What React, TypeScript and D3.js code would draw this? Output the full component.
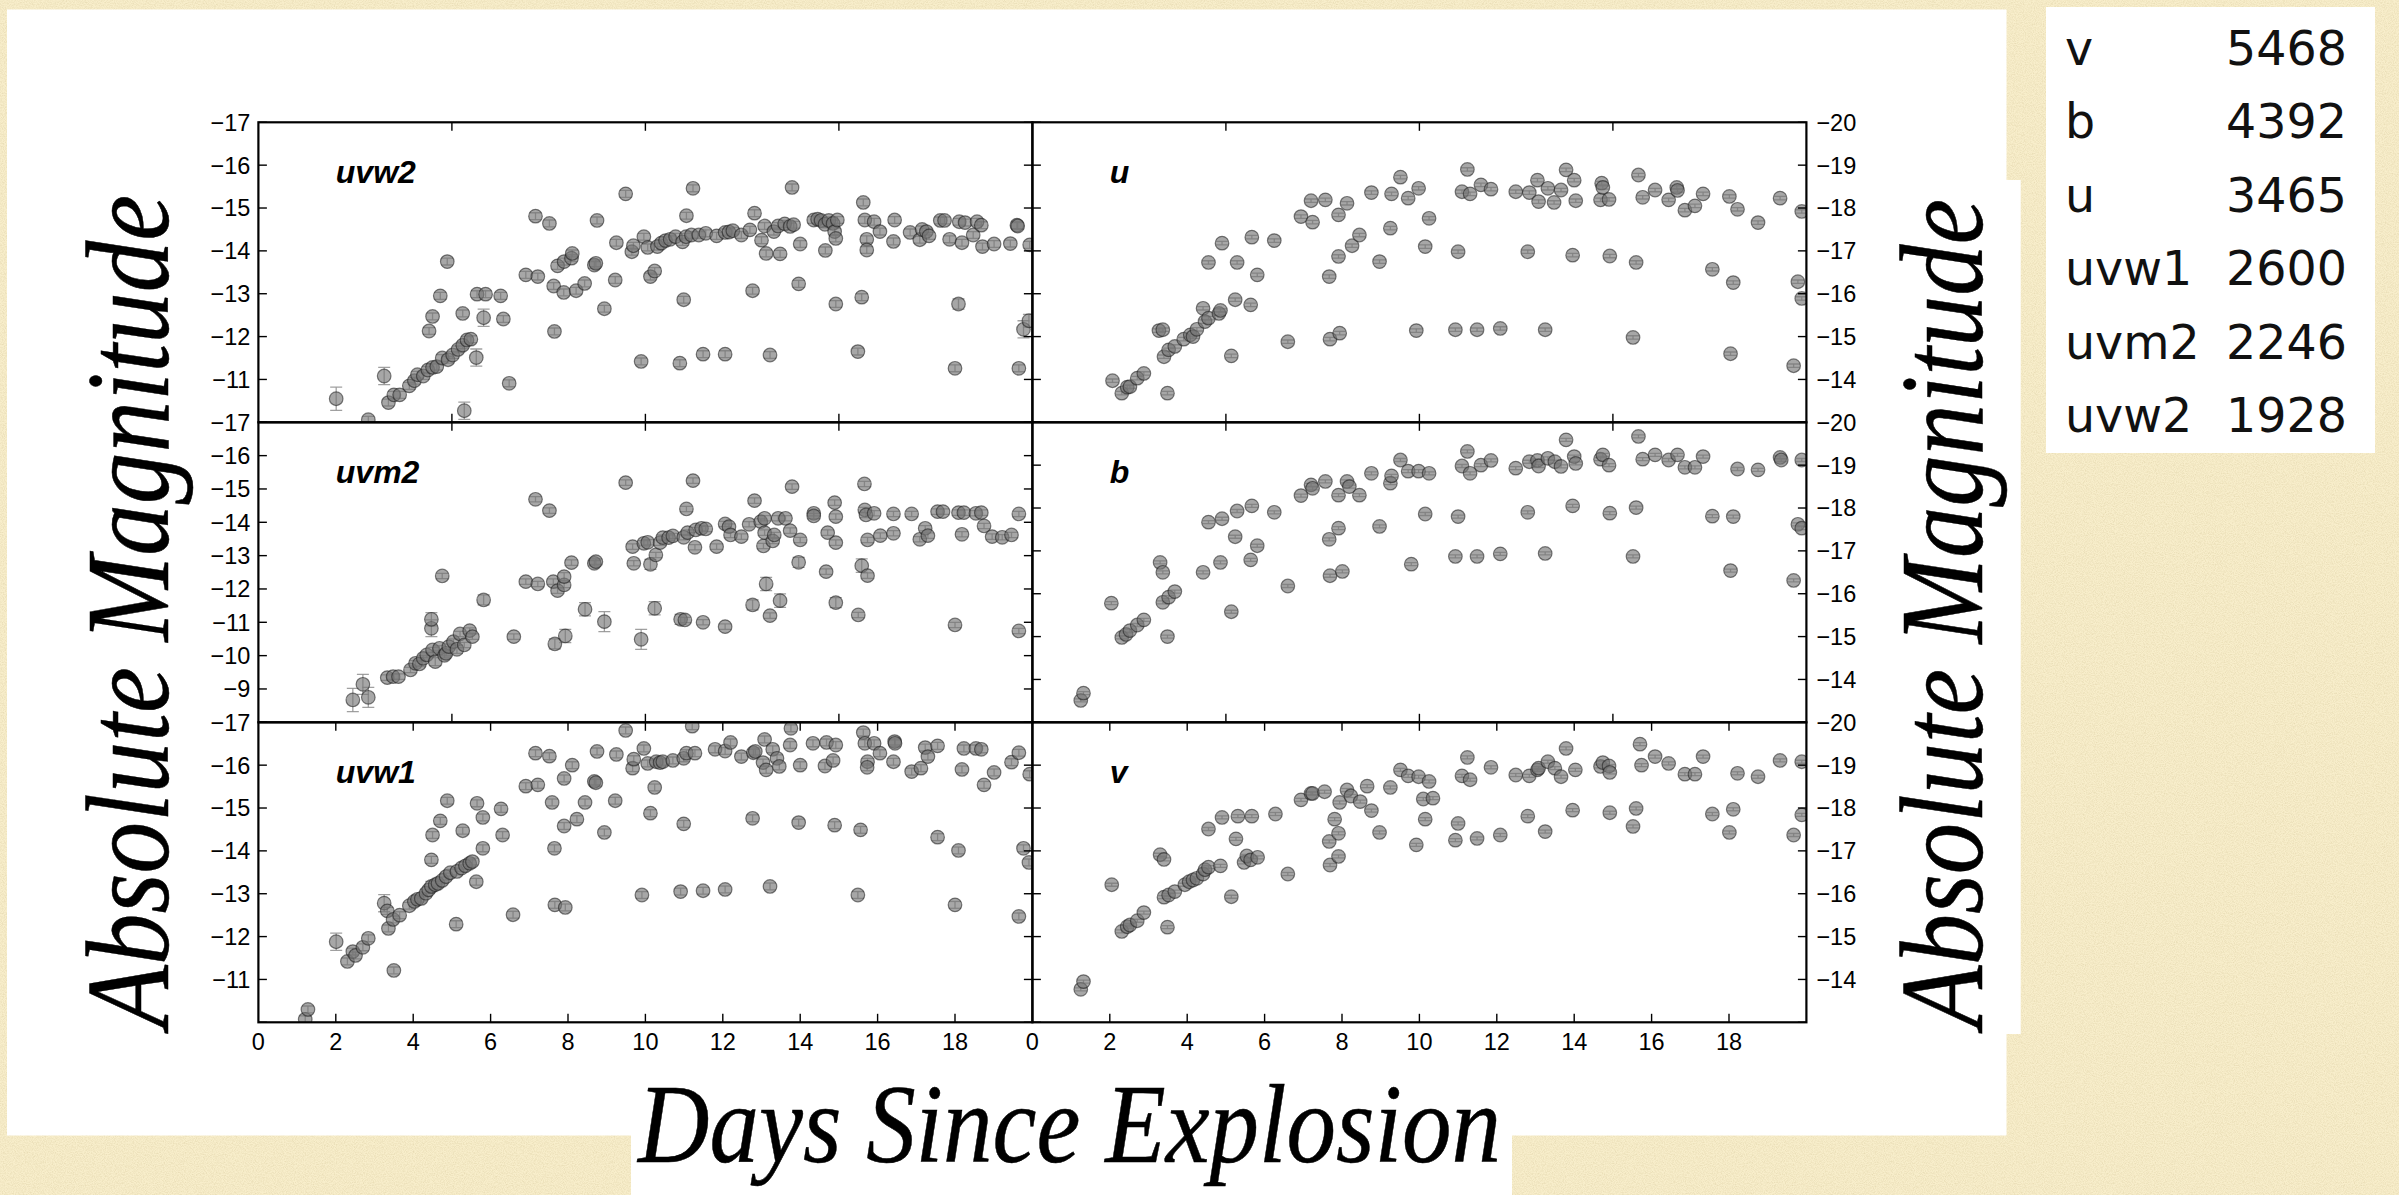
import React from "react";
import * as d3 from "d3";

// [day since explosion, absolute magnitude, optional 1-sigma error]
type Obs = [number, number, number?];

const uvw2Obs: Obs[] = [
  [2.01, -10.55, 0.27], [2.84, -10.06], [3.25, -11.08, 0.2], [3.36, -10.46], [3.5, -10.64], [3.65, -10.64],
  [3.9, -10.85], [4.03, -10.97], [4.11, -11.11], [4.26, -11.08], [4.38, -11.22], [4.5, -11.28], [4.61, -11.3],
  [4.75, -11.5], [4.9, -11.46], [5.02, -11.57], [5.16, -11.7], [5.28, -11.8], [5.39, -11.92], [5.49, -11.94],
  [5.63, -11.51, 0.2], [5.32, -10.27, 0.2], [4.41, -12.13], [4.5, -12.47], [4.7, -12.95], [4.88, -13.75],
  [5.28, -12.54], [5.65, -12.99], [5.82, -12.44, 0.2], [5.87, -12.99], [6.26, -12.95], [6.33, -12.41],
  [6.48, -10.91], [6.91, -13.44], [7.22, -13.4], [7.16, -14.81], [7.52, -14.64], [7.63, -13.18], [7.65, -12.12],
  [7.73, -13.65], [7.89, -13.03], [7.9, -13.75], [8.09, -13.83], [8.11, -13.94], [8.21, -13.07], [8.43, -13.24],
  [8.68, -13.67], [8.72, -13.71], [8.75, -14.71], [8.94, -12.65], [9.22, -13.32], [9.25, -14.19], [9.49, -15.33],
  [9.65, -13.98], [9.69, -14.12], [9.89, -11.42], [9.96, -14.33], [10.06, -14.08], [10.13, -13.4], [10.24, -13.53],
  [10.31, -14.1], [10.41, -14.18], [10.52, -14.24], [10.64, -14.27], [10.78, -14.33], [10.89, -11.38],
  [10.96, -14.21], [10.99, -12.86], [11.05, -14.33], [11.06, -14.82], [11.19, -14.37], [11.23, -15.46],
  [11.38, -14.37], [11.49, -11.59], [11.56, -14.41], [11.84, -14.35], [12.06, -11.59], [12.06, -14.43],
  [12.16, -14.44], [12.26, -14.47], [12.48, -14.37], [12.7, -14.49], [12.77, -13.07], [12.82, -14.88],
  [13.0, -14.25], [13.08, -14.58], [13.12, -13.94], [13.22, -11.57], [13.32, -14.45], [13.43, -14.58],
  [13.48, -13.93], [13.6, -14.63], [13.74, -14.57], [13.79, -15.48], [13.83, -14.61], [13.96, -13.23],
  [14.0, -14.16], [14.35, -14.72], [14.45, -14.74], [14.54, -14.71], [14.64, -14.62], [14.65, -14.01],
  [14.74, -14.71], [14.85, -14.64], [14.89, -14.45], [14.92, -14.29], [14.92, -12.76], [14.96, -14.72],
  [15.49, -11.65], [15.59, -12.92], [15.63, -15.13], [15.67, -14.72], [15.72, -14.27], [15.72, -14.02],
  [15.91, -14.68], [16.06, -14.45], [16.41, -14.22], [16.44, -14.72], [16.84, -14.43], [17.09, -14.26],
  [17.15, -14.5], [17.26, -14.45], [17.33, -14.35], [17.62, -14.71], [17.73, -14.71], [17.86, -14.27],
  [18.0, -11.26], [18.09, -12.76, 0.12], [18.11, -14.68], [18.18, -14.19], [18.26, -14.66], [18.47, -14.37],
  [18.57, -14.68], [18.68, -14.6], [18.71, -14.1], [19.01, -14.16], [19.43, -14.17], [19.6, -14.6],
  [19.62, -14.58], [19.65, -11.26], [19.77, -12.17, 0.2], [19.91, -12.37, 0.15], [19.93, -14.14],
];

const uvm2Obs: Obs[] = [
  [2.44, -8.67, 0.35], [2.7, -9.14, 0.3], [2.84, -8.75, 0.3], [3.33, -9.34], [3.48, -9.37], [3.62, -9.37],
  [3.93, -9.57], [4.06, -9.77], [4.16, -9.75], [4.26, -9.92], [4.35, -10.02], [4.47, -10.82, 0.25],
  [4.47, -11.09, 0.2], [4.5, -10.17], [4.57, -9.82, 0.12], [4.68, -10.22], [4.75, -12.39], [4.81, -10.01],
  [4.85, -10.07], [4.92, -10.27], [5.04, -10.42], [5.13, -10.19, 0.12], [5.21, -10.65], [5.32, -10.32],
  [5.46, -10.75], [5.53, -10.57], [5.82, -11.67, 0.15], [6.6, -10.57], [6.91, -12.22], [7.16, -14.69],
  [7.22, -12.15], [7.52, -14.35], [7.62, -12.22], [7.66, -10.35, 0.15], [7.73, -11.95], [7.9, -12.12],
  [7.9, -12.37, 0.12], [7.93, -10.59, 0.2], [8.09, -12.79], [8.44, -11.39, 0.2], [8.68, -12.77], [8.72, -12.82],
  [8.94, -11.02, 0.3], [9.49, -15.19], [9.67, -13.27], [9.7, -12.77], [9.89, -10.49, 0.3], [9.96, -13.37],
  [10.06, -13.4], [10.13, -12.74, 0.15], [10.24, -11.42, 0.2], [10.27, -13.02], [10.38, -13.39], [10.45, -13.54],
  [10.6, -13.54], [10.71, -13.59], [10.91, -11.09, 0.15], [10.99, -13.55], [11.02, -11.07], [11.06, -14.4],
  [11.09, -13.69], [11.23, -15.25], [11.28, -13.25], [11.3, -13.77], [11.45, -13.82], [11.49, -11.0],
  [11.56, -13.8], [11.84, -13.27], [12.06, -10.87], [12.06, -13.95], [12.16, -13.87], [12.2, -13.62],
  [12.48, -13.57], [12.68, -13.94], [12.77, -11.52, 0.15], [12.82, -14.65], [12.98, -14.02], [13.05, -13.29],
  [13.08, -13.69], [13.08, -14.12], [13.12, -12.15, 0.2], [13.22, -11.2], [13.29, -13.44], [13.33, -13.62],
  [13.43, -14.12], [13.48, -11.65, 0.2], [13.62, -14.12], [13.74, -13.75], [13.79, -15.07], [13.96, -12.8, 0.15],
  [14.0, -13.47], [14.35, -14.27], [14.35, -14.19], [14.67, -12.52], [14.71, -13.69], [14.89, -14.59],
  [14.92, -14.17], [14.92, -13.39], [14.92, -11.59, 0.15], [15.5, -11.22], [15.59, -12.7, 0.2], [15.66, -15.15],
  [15.67, -14.37], [15.7, -14.22], [15.74, -13.47], [15.74, -12.4], [15.91, -14.27], [16.07, -13.6],
  [16.41, -14.25], [16.41, -13.67], [16.88, -14.25], [17.09, -13.49], [17.23, -13.82], [17.3, -13.6],
  [17.55, -14.32], [17.69, -14.32], [18.0, -10.92], [18.09, -14.29], [18.18, -13.64], [18.23, -14.29],
  [18.54, -14.27], [18.68, -14.29], [18.75, -13.89], [18.96, -13.57], [19.22, -13.55], [19.46, -13.62],
  [19.65, -14.25], [19.65, -10.74],
];

const uvw1Obs: Obs[] = [
  [1.21, -10.07], [1.28, -10.3], [2.01, -11.88, 0.2], [2.3, -11.42], [2.44, -11.65], [2.51, -11.56], [2.7, -11.75],
  [2.84, -11.96], [3.25, -12.78, 0.2], [3.33, -12.6], [3.36, -12.19], [3.48, -12.4], [3.5, -11.21], [3.65, -12.5],
  [3.9, -12.72], [4.03, -12.82], [4.11, -12.87], [4.21, -12.89], [4.33, -13.01], [4.4, -13.09], [4.47, -13.79],
  [4.47, -13.17, 0.12], [4.5, -14.37], [4.57, -13.21], [4.64, -13.24], [4.7, -14.7], [4.75, -13.31], [4.85, -13.4],
  [4.88, -15.17], [4.96, -13.49], [5.11, -12.29], [5.13, -13.52], [5.25, -13.6], [5.28, -14.47], [5.35, -13.65],
  [5.46, -13.71], [5.53, -13.75], [5.63, -13.28], [5.65, -15.11], [5.8, -14.78], [5.8, -14.06], [6.27, -14.98],
  [6.31, -14.37], [6.58, -12.51], [6.91, -15.51], [7.22, -15.54], [7.16, -16.28], [7.52, -16.21], [7.59, -15.13],
  [7.65, -14.06], [7.66, -12.74], [7.9, -14.58], [7.9, -15.69], [7.93, -12.68], [8.11, -16.0], [8.23, -14.74],
  [8.44, -15.13], [8.68, -15.62], [8.72, -15.59], [8.75, -16.32], [8.94, -14.43], [9.22, -15.17], [9.25, -16.25],
  [9.49, -16.81], [9.67, -15.93], [9.7, -16.14], [9.91, -12.97], [9.96, -16.39], [10.06, -16.04], [10.13, -14.88],
  [10.24, -15.48], [10.28, -16.08], [10.38, -16.06], [10.45, -16.08], [10.71, -16.11], [10.91, -13.05],
  [10.99, -14.63], [10.99, -16.16], [11.06, -16.28], [11.21, -16.91], [11.28, -16.28], [11.49, -13.07],
  [11.8, -16.37], [12.06, -13.1], [12.06, -16.33], [12.2, -16.53], [12.48, -16.2], [12.77, -14.76],
  [12.79, -16.29], [12.84, -16.32], [13.04, -16.06], [13.08, -16.6], [13.12, -15.89], [13.22, -13.17],
  [13.29, -16.37], [13.4, -16.16], [13.46, -15.97], [13.74, -16.47], [13.76, -16.86], [13.96, -14.66],
  [14.0, -16.0], [14.33, -16.51], [14.64, -15.98], [14.68, -16.53], [14.85, -16.11], [14.89, -14.6],
  [14.92, -16.47], [15.49, -12.97], [15.56, -14.49], [15.63, -16.76], [15.67, -16.51], [15.74, -16.08],
  [15.73, -15.95], [15.91, -16.51], [16.06, -16.28], [16.41, -16.08], [16.44, -16.55], [16.45, -16.51],
  [16.88, -15.85], [17.12, -15.93], [17.23, -16.41], [17.3, -16.2], [17.55, -16.45], [17.55, -14.32],
  [18.0, -12.74], [18.09, -14.01], [18.18, -15.9], [18.23, -16.39], [18.54, -16.39], [18.68, -16.37],
  [18.75, -15.54], [19.01, -15.83], [19.46, -16.07], [19.65, -16.29], [19.65, -12.47], [19.77, -14.06],
  [19.91, -13.73], [19.93, -15.79],
];

const uObs: Obs[] = [
  [2.07, -13.97], [2.31, -13.68], [2.45, -13.82], [2.52, -13.83], [2.71, -14.03], [2.88, -14.14], [3.27, -15.14],
  [3.37, -15.16], [3.4, -14.53], [3.49, -13.68], [3.52, -14.69], [3.68, -14.77], [3.91, -14.94], [4.08, -15.04],
  [4.15, -15.0], [4.25, -15.17], [4.41, -15.66], [4.46, -15.35], [4.55, -15.43], [4.55, -16.73], [4.82, -15.54],
  [4.86, -15.61], [4.9, -17.18], [5.14, -14.55], [5.24, -15.86], [5.29, -16.73], [5.64, -15.74], [5.67, -17.32],
  [5.81, -16.44], [6.25, -17.24], [6.6, -14.88], [6.94, -17.8], [7.2, -18.17], [7.24, -17.67], [7.57, -18.19],
  [7.67, -16.4], [7.69, -14.94], [7.91, -16.87], [7.91, -17.84], [7.94, -15.08], [8.13, -18.11], [8.26, -17.12],
  [8.45, -17.37], [8.76, -18.36], [8.97, -16.75], [9.25, -17.53], [9.28, -18.33], [9.51, -18.72], [9.71, -18.23],
  [9.92, -15.14], [9.98, -18.46], [10.15, -17.1], [10.25, -17.76], [11.0, -16.98], [10.93, -15.16], [11.1, -18.38],
  [11.24, -18.9], [11.31, -18.33], [11.49, -15.16], [11.59, -18.54], [11.85, -18.44], [12.09, -15.19],
  [12.49, -18.38], [12.8, -16.98], [12.84, -18.36], [13.05, -18.65], [13.08, -18.15], [13.25, -15.16],
  [13.32, -18.46], [13.48, -18.13], [13.66, -18.42], [13.79, -18.89], [13.96, -16.9], [14.0, -18.65],
  [14.04, -18.17], [14.68, -18.19], [14.71, -18.58], [14.74, -18.48], [14.9, -18.2], [14.92, -16.88],
  [15.52, -14.98], [15.6, -16.73], [15.66, -18.77], [15.77, -18.25], [16.09, -18.42], [16.44, -18.19],
  [16.65, -18.48], [16.67, -18.41], [16.86, -17.95], [17.12, -18.05], [17.33, -18.33], [17.57, -16.57],
  [18.01, -18.27], [18.04, -14.6], [18.11, -16.26], [18.22, -17.97], [18.75, -17.66], [19.32, -18.23],
  [19.67, -14.32], [19.78, -16.28], [19.88, -17.92], [19.88, -15.89],
];

const bObs: Obs[] = [
  [1.25, -13.51], [1.32, -13.68], [2.04, -15.78], [2.31, -14.98], [2.42, -15.05], [2.52, -15.14], [2.71, -15.27],
  [2.88, -15.39], [3.3, -16.73], [3.37, -16.5], [3.37, -15.8], [3.49, -15.0], [3.52, -15.92], [3.68, -16.05],
  [4.41, -16.5], [4.55, -17.67], [4.86, -16.73], [4.9, -17.75], [5.14, -15.58], [5.24, -17.33], [5.29, -17.93],
  [5.64, -16.79], [5.67, -18.05], [5.81, -17.12], [6.25, -17.9], [6.6, -16.18], [6.94, -18.29], [7.2, -18.54],
  [7.24, -18.46], [7.57, -18.62], [7.67, -17.27], [7.69, -16.42], [7.91, -17.53], [7.91, -18.3], [8.01, -16.52],
  [8.13, -18.62], [8.19, -18.5], [8.45, -18.3], [8.76, -18.81], [8.97, -17.57], [9.25, -18.58], [9.28, -18.75],
  [9.51, -19.12], [9.71, -18.86], [9.79, -16.69], [9.98, -18.86], [10.15, -17.86], [10.25, -18.81],
  [10.93, -16.87], [11.0, -17.8], [11.1, -18.98], [11.24, -19.32], [11.31, -18.81], [11.49, -16.87],
  [11.59, -19.0], [11.85, -19.11], [12.09, -16.93], [12.49, -18.93], [12.8, -17.9], [12.84, -19.08],
  [13.05, -19.11], [13.08, -18.98], [13.25, -16.94], [13.32, -19.16], [13.5, -19.08], [13.66, -18.97],
  [13.79, -19.59], [13.96, -18.05], [14.0, -19.2], [14.04, -19.04], [14.68, -19.14], [14.74, -19.24],
  [14.9, -19.0], [14.92, -17.88], [15.52, -16.87], [15.6, -18.01], [15.66, -19.67], [15.77, -19.14],
  [16.09, -19.24], [16.44, -19.12], [16.67, -19.24], [16.86, -18.95], [17.12, -18.95], [17.33, -19.2],
  [17.57, -17.81], [18.04, -16.54], [18.11, -17.8], [18.22, -18.91], [18.75, -18.89], [19.32, -19.18],
  [19.35, -19.12], [19.67, -16.31], [19.78, -17.62], [19.88, -17.53], [19.88, -19.12],
];

const vObs: Obs[] = [
  [1.25, -13.77], [1.32, -13.95], [2.05, -16.21], [2.31, -15.12], [2.45, -15.23], [2.52, -15.27], [2.71, -15.37],
  [2.88, -15.56], [3.3, -16.91], [3.4, -16.8], [3.4, -15.92], [3.49, -15.22], [3.52, -15.97], [3.68, -16.05],
  [3.94, -16.21], [4.05, -16.28], [4.15, -16.32], [4.25, -16.36], [4.41, -16.46], [4.46, -16.56], [4.55, -16.62],
  [4.55, -17.51], [4.86, -16.65], [4.9, -17.78], [5.14, -15.93], [5.26, -17.28], [5.31, -17.81], [5.47, -16.73],
  [5.54, -16.88], [5.64, -16.79], [5.67, -17.81], [5.82, -16.85], [6.28, -17.86], [6.6, -16.46], [6.94, -18.19],
  [7.2, -18.34], [7.24, -18.34], [7.55, -18.38], [7.67, -17.22], [7.69, -16.67], [7.81, -17.74], [7.91, -17.41],
  [7.91, -16.87], [7.94, -18.13], [8.13, -18.42], [8.23, -18.28], [8.47, -18.15], [8.76, -17.94], [8.65, -18.51],
  [8.97, -17.43], [9.25, -18.48], [9.51, -18.89], [9.71, -18.75], [9.92, -17.14], [9.98, -18.73], [10.1, -18.21],
  [10.15, -17.74], [10.25, -18.62], [10.35, -18.23], [10.93, -17.25], [11.0, -17.64], [11.1, -18.75],
  [11.24, -19.18], [11.31, -18.66], [11.49, -17.29], [11.85, -18.95], [12.09, -17.37], [12.49, -18.77],
  [12.8, -17.81], [12.84, -18.75], [13.05, -18.89], [13.08, -18.93], [13.25, -17.45], [13.32, -19.08],
  [13.5, -18.93], [13.66, -18.73], [13.79, -19.39], [13.96, -17.95], [14.03, -18.89], [14.68, -18.97],
  [14.74, -19.06], [14.9, -18.98], [14.92, -18.83], [14.92, -17.89], [15.52, -17.57], [15.6, -17.99],
  [15.7, -19.49], [15.74, -19.0], [16.09, -19.2], [16.44, -19.04], [16.86, -18.79], [17.12, -18.79],
  [17.33, -19.2], [17.57, -17.86], [18.01, -17.43], [18.11, -17.97], [18.22, -18.81], [18.75, -18.73],
  [19.32, -19.11], [19.67, -17.37], [19.88, -17.84], [19.88, -19.08],
];

// Swift/UVOT filters and their central wavelengths (Angstrom)
const filterNames = ["v", "b", "u", "uvw1", "uvm2", "uvw2"];
const filterWavelengths = [5468, 4392, 3465, 2600, 2246, 1928];

// Axis ranges and ticks
const dayDomain: [number, number] = [0, 20];
const dayTickLabels = [0, 2, 4, 6, 8, 10, 12, 14, 16, 18];
const upperDayTicks = [5, 10, 15];
const uvDomains: [number, number][] = [[-17, -10], [-17, -8], [-17, -10]];
const opticalDomain: [number, number] = [-20, -13];

type PanelSpec = {
  id: string;
  label: string;
  obs: Obs[];
  col: number;
  row: number;
  domain: [number, number];
  defaultErr: number;
};

const panels: PanelSpec[] = [
  { id: "uvw2", label: "uvw2", obs: uvw2Obs, col: 0, row: 0, domain: uvDomains[0], defaultErr: 0.08 },
  { id: "uvm2", label: "uvm2", obs: uvm2Obs, col: 0, row: 1, domain: uvDomains[1], defaultErr: 0.08 },
  { id: "uvw1", label: "uvw1", obs: uvw1Obs, col: 0, row: 2, domain: uvDomains[2], defaultErr: 0.08 },
  { id: "u", label: "u", obs: uObs, col: 1, row: 0, domain: opticalDomain, defaultErr: 0.04 },
  { id: "b", label: "b", obs: bObs, col: 1, row: 1, domain: opticalDomain, defaultErr: 0.035 },
  { id: "v", label: "v", obs: vObs, col: 1, row: 2, domain: opticalDomain, defaultErr: 0.035 },
];

const W = 2399;
const H = 1195;
const LEFT = 258.4;
const TOP = 122.3;
const PW = 774;
const PH = 300;
const TICK = 8.5;
const SANS = "'Liberation Sans', Arial, Helvetica, sans-serif";
const SERIF = "'Liberation Serif', 'Times New Roman', serif";

const fmt = (v: number) => String(v).replace("-", "\u2212");

function Panel({ spec }: { spec: PanelSpec }) {
  const x0 = LEFT + spec.col * PW;
  const y0 = TOP + spec.row * PH;
  const x = d3.scaleLinear().domain(dayDomain).range([x0, x0 + PW]);
  const y = d3.scaleLinear().domain(spec.domain).range([y0, y0 + PH]);
  const yTicks = d3.range(spec.domain[0], spec.domain[1] + 0.5, 1);
  const yLabels = yTicks.slice(0, -1);
  const xTicks = spec.row === 2 ? dayTickLabels.slice(1) : upperDayTicks;
  const clipId = `clip-${spec.id}`;
  const isLeft = spec.col === 0;

  return (
    <g>
      <defs>
        <clipPath id={clipId}>
          <rect x={x0} y={y0} width={PW} height={PH} />
        </clipPath>
      </defs>
      <g clipPath={`url(#${clipId})`}>
        {spec.obs.map((o, i) => {
          const e = o[2] ?? spec.defaultErr;
          const cx = x(o[0]);
          const ya = y(o[1] - e);
          const yb = y(o[1] + e);
          return (
            <g key={`e${i}`} stroke="#8f8f8f" strokeWidth={1.3} strokeOpacity={0.85}>
              <line x1={cx} x2={cx} y1={ya} y2={yb} />
              <line x1={cx - 6} x2={cx + 6} y1={ya} y2={ya} />
              <line x1={cx - 6} x2={cx + 6} y1={yb} y2={yb} />
            </g>
          );
        })}
        {spec.obs.map((o, i) => (
          <circle
            key={`m${i}`}
            cx={x(o[0])}
            cy={y(o[1])}
            r={6.8}
            fill="#767676"
            fillOpacity={0.64}
            stroke="#1a1a1a"
            strokeOpacity={0.55}
            strokeWidth={1.2}
          />
        ))}
      </g>
      <rect x={x0} y={y0} width={PW} height={PH} fill="none" stroke="#000" strokeWidth={2.2} />
      <g stroke="#000" strokeWidth={1.4}>
        {xTicks.map((t) => (
          <g key={`xt${t}`}>
            <line x1={x(t)} x2={x(t)} y1={y0} y2={y0 + TICK} />
            <line x1={x(t)} x2={x(t)} y1={y0 + PH} y2={y0 + PH - TICK} />
          </g>
        ))}
        {yTicks.map((t) => (
          <g key={`yt${t}`}>
            <line x1={x0} x2={x0 + TICK} y1={y(t)} y2={y(t)} />
            <line x1={x0 + PW} x2={x0 + PW - TICK} y1={y(t)} y2={y(t)} />
          </g>
        ))}
      </g>
      <g fontFamily={SANS} fontSize={23.5} fill="#000">
        {yLabels.map((t) => (
          <text
            key={`yl${t}`}
            x={isLeft ? x0 - 8 : x0 + PW + 10}
            y={y(t)}
            dy="0.36em"
            textAnchor={isLeft ? "end" : "start"}
          >
            {fmt(t)}
          </text>
        ))}
        {spec.row === 2 &&
          dayTickLabels.map((t) => (
            <text key={`xl${t}`} x={x(t)} y={y0 + PH + 28} textAnchor="middle">
              {fmt(t)}
            </text>
          ))}
      </g>
      <text
        x={x0 + PW * 0.1}
        y={y0 + PH * 0.2 + 1}
        fontFamily={SANS}
        fontWeight="bold"
        fontStyle="italic"
        fontSize={32}
        fill="#000"
      >
        {spec.label}
      </text>
    </g>
  );
}

export default function App() {
  return (
    <svg
      width={W}
      height={H}
      viewBox={`0 0 ${W} ${H}`}
      style={{ position: "absolute", left: 0, top: 0, display: "block" }}
    >
      <defs>
        <filter id="paper" x="0" y="0" width="100%" height="100%">
          <feTurbulence type="fractalNoise" baseFrequency="0.9" numOctaves={3} seed={7} result="noise" />
          <feColorMatrix
            in="noise"
            type="matrix"
            values="0 0 0 0 0.62  0 0 0 0 0.52  0 0 0 0 0.28  0.7 0 0 0 -0.25"
          />
        </filter>
      </defs>

      {/* paper background */}
      <rect x={0} y={0} width={W} height={H} fill="#f8eecb" />
      <rect x={0} y={0} width={W} height={H} fill="#fff" filter="url(#paper)" />

      {/* white cards */}
      <rect x={7} y={9.5} width={1999.5} height={1126} fill="#fff" />
      <rect x={1880} y={180} width={140.7} height={854} fill="#fff" />
      <rect x={631} y={1120} width={881} height={H - 1120} fill="#fff" />
      <rect x={2046} y={7} width={329} height={446} fill="#fff" />

      {panels.map((p) => (
        <Panel key={p.id} spec={p} />
      ))}

      {/* axis titles */}
      <g fontFamily={SERIF} fontStyle="italic" fill="#000" stroke="#000" strokeWidth={0.5}>
        <text
          transform="translate(168.3,1028) rotate(-90)"
          fontSize={118}
          textLength={833}
          lengthAdjust="spacingAndGlyphs"
        >
          Absolute Magnitude
        </text>
        <text
          transform="translate(1981.7,1028) rotate(-90)"
          fontSize={118}
          textLength={829}
          lengthAdjust="spacingAndGlyphs"
        >
          Absolute Magnitude
        </text>
        <text x={638} y={1161.7} fontSize={113} textLength={863} lengthAdjust="spacingAndGlyphs">
          Days Since Explosion
        </text>
      </g>

      {/* filter / wavelength table */}
      <g fontFamily="'DejaVu Sans', Verdana, sans-serif" fontSize={47.5} fill="#111">
        {filterNames.map((n, i) => (
          <g key={n}>
            <text x={2065} y={65 + i * 73.4}>
              {n}
            </text>
            <text x={2347} y={65 + i * 73.4} textAnchor="end">
              {filterWavelengths[i]}
            </text>
          </g>
        ))}
      </g>
    </svg>
  );
}
